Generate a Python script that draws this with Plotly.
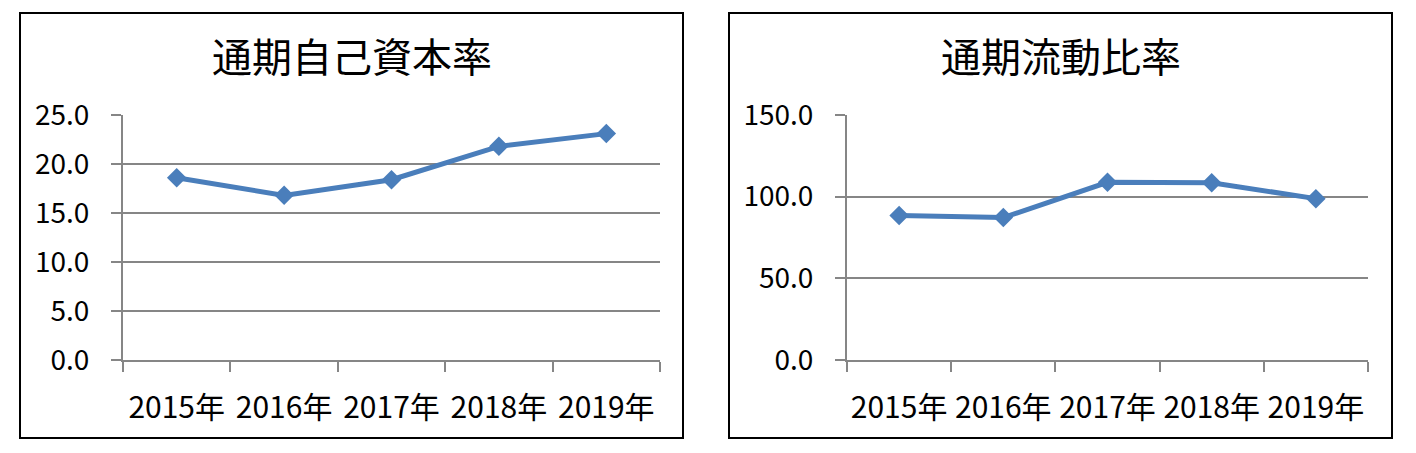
import plotly.graph_objects as go

years = ["2015年", "2016年", "2017年", "2018年", "2019年"]
equity_ratio = [18.6, 16.8, 18.4, 21.8, 23.1]
current_ratio = [88.4, 87.2, 108.8, 108.5, 98.8]

BLUE = "#4A7EBB"
GRID = "#868686"
FONT = "Noto Sans CJK JP"

fig = go.Figure()

fig.add_trace(go.Scatter(x=years, y=equity_ratio, mode="lines+markers",
                         line=dict(color=BLUE, width=5),
                         marker=dict(symbol="diamond", size=15, color=BLUE),
                         xaxis="x", yaxis="y", showlegend=False))
fig.add_trace(go.Scatter(x=years, y=current_ratio, mode="lines+markers",
                         line=dict(color=BLUE, width=5),
                         marker=dict(symbol="diamond", size=15, color=BLUE),
                         xaxis="x2", yaxis="y2", showlegend=False))

W, H = 1416, 453
OFF = 8  # page body margin

def px_x(v):
    return (v - OFF) / W

def px_y(v):
    return 1 - (v - OFF) / H

xcommon = dict(type="category", range=[-0.5, len(years) - 0.5],
               showgrid=False, showline=True, linecolor=GRID,
               linewidth=2, ticks="outside", tickson="boundaries", ticklen=10,
               tickwidth=2, tickcolor=GRID, tickfont=dict(size=30, color="black"),
               tickangle=0, ticklabelstandoff=20, automargin=False,
               fixedrange=True)
ycommon = dict(showgrid=True, gridcolor=GRID, gridwidth=2, showline=True,
               linecolor=GRID, linewidth=2, ticks="outside", ticklen=10,
               tickwidth=2, tickcolor=GRID, tickformat=".1f", zeroline=False,
               tickfont=dict(size=28, color="black"), ticklabelstandoff=16,
               automargin=False, fixedrange=True)

fig.update_layout(
    width=W, height=H,
    margin=dict(l=0, r=0, t=0, b=0, autoexpand=False),
    paper_bgcolor="white", plot_bgcolor="white",
    font=dict(family=FONT, color="black"),
    xaxis=dict(domain=[px_x(123), px_x(660)], anchor="y", **xcommon),
    yaxis=dict(domain=[px_y(360), px_y(115)], anchor="x", range=[0, 25],
               dtick=5, **ycommon),
    xaxis2=dict(domain=[px_x(847), px_x(1368)], anchor="y2", **xcommon),
    yaxis2=dict(domain=[px_y(360), px_y(115)], anchor="x2", range=[0, 150],
                dtick=50, **ycommon),
    shapes=[
        dict(type="rect", xref="paper", yref="paper",
             x0=px_x(20), x1=px_x(683), y0=px_y(438), y1=px_y(13),
             line=dict(color="black", width=2)),
        dict(type="rect", xref="paper", yref="paper",
             x0=px_x(729), x1=px_x(1392), y0=px_y(438), y1=px_y(13),
             line=dict(color="black", width=2)),
    ],
    annotations=[
        dict(text="通期自己資本率", xref="paper", yref="paper",
             x=px_x(352), y=px_y(55), xanchor="center", yanchor="middle",
             showarrow=False,
             font=dict(family=FONT, size=40, color="black")),
        dict(text="通期流動比率", xref="paper", yref="paper",
             x=px_x(1061), y=px_y(55), xanchor="center", yanchor="middle",
             showarrow=False,
             font=dict(family=FONT, size=40, color="black")),
    ],
)

fig.write_html("out.html")
